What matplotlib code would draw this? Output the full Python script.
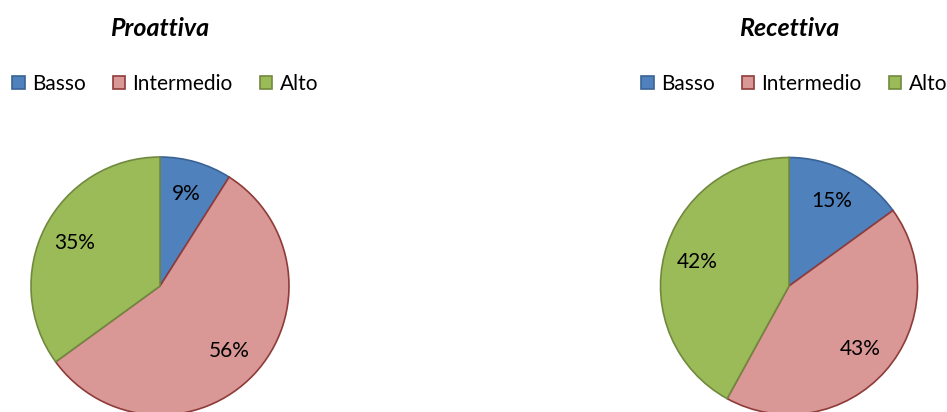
import matplotlib
matplotlib.use("Agg")
from matplotlib import pyplot
from matplotlib.patches import Patch

pyplot.rcParams['font.family'] = ['Lato', 'DejaVu Sans']

# dati
categorie = ["Basso", "Intermedio", "Alto"]
proattiva = [9, 56, 35]
recettiva = [15, 43, 42]
titoli = ["Proattiva", "Recettiva"]

colori = ["#4F81BD", "#D99795", "#9BBB59"]
bordi = ["#3A6395", "#8E3B39", "#71893F"]

W, H = 947, 412
fig = pyplot.figure(figsize=(W / 100, H / 100), dpi=100)


def disegna_torta(cx, cy, r, valori, titolo, legenda_x):
    # assi in pixel -> frazioni della figura
    ax = fig.add_axes([(cx - r) / W, (H - cy - r) / H, 2 * r / W, 2 * r / H])
    wedges, _, autotexts = ax.pie(
        valori, colors=colori, startangle=90, counterclock=False,
        autopct=lambda p: f"{p:.0f}%", pctdistance=0.74, radius=1,
        wedgeprops=dict(linewidth=1.2), textprops=dict(fontsize=15, color="black"))
    for w, b in zip(wedges, bordi):
        w.set_edgecolor(b)
    ax.set_xlim(-1, 1)
    ax.set_ylim(-1, 1)
    ax.set_aspect("equal")
    ax.axis("off")
    for c in ax.get_children():
        c.set_clip_on(False)

    fig.text(cx / W, 1 - 28 / H, titolo, ha="center", va="center",
             fontsize=18, fontweight="bold", fontstyle="italic")

    handles = [Patch(facecolor=c, edgecolor=b, linewidth=1.2) for c, b in zip(colori, bordi)]
    fig.legend(handles, categorie, loc="center left",
               bbox_to_anchor=(legenda_x / W, 1 - 84 / H), ncol=3, frameon=False,
               fontsize=15, handlelength=0.6, handleheight=0.6,
               handletextpad=0.35, columnspacing=1.3, borderpad=0, borderaxespad=0)


disegna_torta(160, 286, 129, proattiva, titoli[0], 12)
disegna_torta(789, 286, 128.5, recettiva, titoli[1], 641)

fig.savefig("out.png", dpi=100)
